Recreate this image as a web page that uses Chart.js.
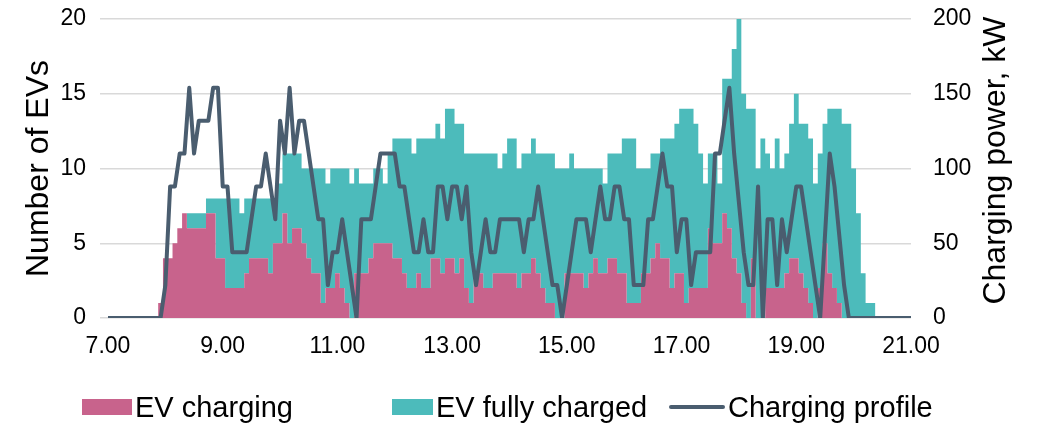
<!DOCTYPE html>
<html>
<head>
<meta charset="utf-8">
<title>EV charging profile</title>
<script src="https://cdn.jsdelivr.net/npm/chart.js@4.4.1/dist/chart.umd.min.js"></script>
<style>
  body { margin: 0; background: #fff; font-family: 'Liberation Sans', Arial, sans-serif; }
  #wrap { position: relative; width: 1038px; height: 423px; }
  #legend { position: absolute; left: 0; top: 391px; width: 1038px; height: 32px; font-size: 29px; color: #000; }
  .item { position: absolute; top: 0; height: 32px; display: flex; align-items: center; white-space: nowrap; }
  .swatch { display: inline-block; margin-right: 3px; }
</style>
</head>
<body>
<div id="wrap">
  <canvas id="evChart" width="1038" height="423"></canvas>
  <div id="legend"></div>
</div>
<script>
// 5-minute slots from 7.00 to 21.00
const startHour = 7;
const slotMinutes = 5;
const slotCount = 169;

// EVs currently charging, per slot
const charging = [
  0,0,0,0,0,0,0,0,0,0,0,
  1,4,4,5,6,7,6,6,6,6,7,7,
  4,4,2,2,2,2,3,4,4,4,4,3,
  5,5,7,5,6,6,5,4,3,3,1,2,
  2,3,2,1,0,3,3,3,4,5,5,5,
  5,4,4,3,2,2,3,2,2,4,4,3,
  4,4,3,4,2,1,3,3,2,2,3,3,
  3,3,3,2,3,3,4,3,2,1,1,0,
  0,3,3,3,3,2,3,4,3,3,4,4,
  3,3,1,1,1,3,3,4,5,4,4,2,
  3,3,1,2,2,2,2,6,5,5,7,6,
  4,3,1,0,4,0,0,2,2,2,2,3,
  4,4,3,2,1,0,2,5,3,2,1,0,
  0,0,0,0,0,0,0,0,0,0,0,0,0,0
];

// EVs parked and fully charged, per slot
const fullyCharged = [
  0,0,0,0,0,0,0,0,0,0,0,
  0,0,0,0,0,0,1,1,1,1,1,1,
  4,4,6,6,6,5,5,4,4,4,4,5,
  3,4,4,6,5,5,5,6,7,7,9,7,
  8,7,8,9,9,7,6,6,5,5,5,4,
  6,8,8,9,10,9,9,10,10,8,9,9,
  10,10,10,9,9,10,8,8,9,9,8,7,
  8,9,9,8,8,8,8,8,9,10,10,10,
  10,7,8,7,7,8,7,6,7,6,7,7,
  8,9,11,11,9,7,7,7,6,8,8,10,
  10,11,13,12,11,9,7,5,6,4,9,10,
  14,17,14,14,10,10,12,9,8,10,8,8,
  9,11,10,11,11,9,9,8,11,12,13,13,
  13,10,7,3,1,1,0,0,0,0,0,0,0,0
];

// Total charging power, kW
const chargingPower = [
  0,0,0,0,0,0,0,0,0,0,0,0,
  22,88,88,110,110,154,110,132,132,132,154,154,
  88,88,44,44,44,44,66,88,88,110,88,66,
  132,110,154,110,132,132,110,88,66,66,22,44,
  44,66,44,22,0,66,66,66,88,110,110,110,
  110,88,88,66,44,44,66,44,44,88,88,66,
  88,88,66,88,44,22,44,66,44,44,66,66,
  66,66,66,44,66,66,88,66,44,22,22,0,
  22,44,66,66,66,44,66,88,66,66,88,88,
  66,66,22,22,22,66,66,88,110,88,88,44,
  66,66,22,44,44,44,44,110,110,132,154,110,
  77,44,22,22,88,0,66,66,22,66,44,66,
  88,88,66,44,22,0,55,110,88,55,22,0,
  0,0,0,0,0,0,0,0,0,0,0,0,0
];

const seriesLabels = ['EV charging', 'EV fully charged', 'Charging profile'];
const leftTitle = 'Number of EVs';
const rightTitle = 'Charging power, kW';

const pink = '#c8638c';
const teal = '#4cbbbb';
const slate = '#4a5d6f';
const fontFamily = "'Liberation Sans', Arial, sans-serif";

const times = [];
for (let k = 0; k < slotCount; k++) times.push(startHour + k * slotMinutes / 60);

const points = values => times.map((t, i) => ({ x: t, y: values[i] }));

// fixed axis widths; drop the label overhang so layout.padding sets the top
const fixWidth = w => s => {
  s.width = w;
  s.paddingTop = 0;
  s.paddingBottom = 0;
};

// rotated axis titles, both reading bottom to top
const axisTitles = {
  id: 'axisTitles',
  afterDraw(chart) {
    const { ctx, chartArea } = chart;
    const midY = (chartArea.top + chartArea.bottom) / 2;
    ctx.save();
    ctx.font = '32px ' + fontFamily;
    ctx.fillStyle = '#000';
    ctx.textAlign = 'center';
    ctx.textBaseline = 'alphabetic';
    const titles = [
      [chartArea.left - 60, midY, leftTitle],
      [chartArea.right + 94, midY - 8, rightTitle]
    ];
    titles.forEach(([x, y, text]) => {
      ctx.save();
      ctx.translate(x, y);
      ctx.rotate(-Math.PI / 2);
      ctx.fillText(text, 0, 0);
      ctx.restore();
    });
    ctx.restore();
  }
};

const chart = new Chart(document.getElementById('evChart'), {
  type: 'line',
  data: {
    datasets: [{
      label: seriesLabels[2],
      data: points(chargingPower),
      yAxisID: 'y1',
      borderColor: slate,
      borderWidth: 4,
      borderJoinStyle: 'round',
      borderCapStyle: 'round',
      pointRadius: 0,
      fill: false,
      tension: 0
    }, {
      label: seriesLabels[0],
      data: points(charging),
      yAxisID: 'y',
      stepped: 'middle',
      backgroundColor: pink,
      borderWidth: 0,
      pointRadius: 0,
      fill: 'origin'
    }, {
      label: seriesLabels[1],
      data: points(fullyCharged),
      yAxisID: 'y',
      stepped: 'middle',
      backgroundColor: teal,
      borderWidth: 0,
      pointRadius: 0,
      fill: '-1'
    }]
  },
  options: {
    responsive: false,
    animation: false,
    layout: { padding: { top: 19 } },
    plugins: { legend: { display: false }, tooltip: { enabled: false } },
    scales: {
      x: {
        type: 'linear',
        min: 7,
        max: 21,
        ticks: {
          stepSize: 2,
          autoSkip: false,
          maxRotation: 0,
          padding: 15,
          color: '#000',
          font: { size: 23, family: fontFamily },
          callback: v => v.toFixed(2)
        },
        grid: { display: false, drawTicks: false },
        border: { display: false },
        afterFit: s => { s.height = 105; }
      },
      y: {
        position: 'left',
        stacked: true,
        min: 0,
        max: 20,
        ticks: { stepSize: 5, padding: 14, color: '#000', font: { size: 23, family: fontFamily } },
        grid: { color: '#d9d9d9', lineWidth: 1.5, drawTicks: true, tickLength: 8 },
        border: { display: false },
        afterFit: fixWidth(108)
      },
      y1: {
        position: 'right',
        min: 0,
        max: 200,
        ticks: { stepSize: 50, padding: 22, color: '#000', font: { size: 23, family: fontFamily } },
        grid: { display: false, drawTicks: false },
        border: { display: false },
        afterFit: fixWidth(127)
      }
    }
  },
  plugins: [axisTitles]
});

// legend below the plot
const legendItems = [
  { label: seriesLabels[0], left: 82, swatch: 'box', width: 50, color: pink },
  { label: seriesLabels[1], left: 392, swatch: 'box', width: 41, color: teal },
  { label: seriesLabels[2], left: 669, swatch: 'line', width: 56, color: slate }
];
const legend = document.getElementById('legend');
legendItems.forEach(it => {
  const item = document.createElement('div');
  item.className = 'item';
  item.style.left = it.left + 'px';
  const sw = document.createElement('span');
  sw.className = 'swatch';
  sw.style.width = it.width + 'px';
  sw.style.height = it.swatch === 'box' ? '16px' : '4px';
  sw.style.background = it.color;
  if (it.swatch === 'line') sw.style.borderRadius = '2px';
  const txt = document.createElement('span');
  txt.textContent = it.label;
  item.appendChild(sw);
  item.appendChild(txt);
  legend.appendChild(item);
});
</script>
</body>
</html>
